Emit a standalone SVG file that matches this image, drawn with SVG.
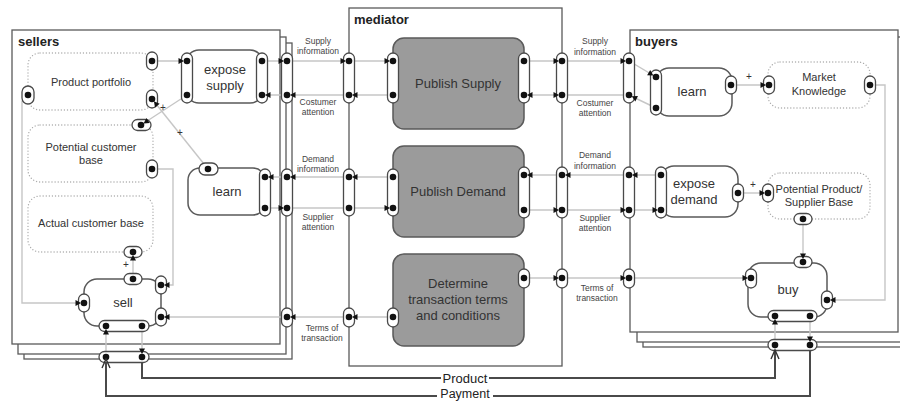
<svg xmlns="http://www.w3.org/2000/svg" width="900" height="401" viewBox="0 0 900 401">
<style>
.page{fill:#fff;stroke:#5a5a5a;stroke-width:1.3}
.proc{fill:#fff;stroke:#5a5a5a;stroke-width:1.5}
.med{fill:#9b9b9b;stroke:#5a5a5a;stroke-width:1.5}
.res{fill:#fff;stroke:#aaa;stroke-width:1.3;stroke-dasharray:0.1 3;stroke-linecap:round}
.port{fill:#fff;stroke:#4a4a4a;stroke-width:1.3}
.dot{fill:#111}
.c{fill:none;stroke:#c6c6c6;stroke-width:1.4}
.flow{fill:none;stroke:#4a4a4a;stroke-width:2}
.chev{fill:none;stroke:#333;stroke-width:1.4}
text{font-family:"Liberation Sans",Arial,sans-serif;fill:#333}
.title{font-size:13px;font-weight:bold;fill:#222}
.nt{font-size:13px;text-anchor:middle}
.rt{font-size:11px;text-anchor:middle}
.lbl{font-size:8.5px;text-anchor:middle;fill:#444}
.plus{font-size:10px;text-anchor:middle;fill:#333}
.ft{font-size:13px;text-anchor:middle;fill:#222}
</style>
<defs>
<path id="mR" d="M0 0 L-5.5 -3 L-5.5 3 Z" fill="#111"/>
<path id="mL" d="M0 0 L5.5 -3 L5.5 3 Z" fill="#111"/>
<path id="mU" d="M0 0 L-3 5.5 L3 5.5 Z" fill="#111"/>
<path id="mD" d="M0 0 L-3 -5.5 L3 -5.5 Z" fill="#111"/>
</defs>

<!-- swimlane pages -->
<g id="sellers-pages">
<rect class="page" x="24" y="43" width="268" height="316"/>
<rect class="page" x="18" y="37" width="268" height="317"/>
<rect class="page" x="12" y="30" width="268" height="314"/>
<text class="title" x="18" y="46">sellers</text>
</g>
<g id="buyers-pages">
<rect class="page" x="643" y="43" width="270" height="304"/>
<rect class="page" x="637" y="37" width="270" height="305"/>
<rect class="page" x="630" y="30" width="268" height="302"/>
<text class="title" x="635" y="46">buyers</text>
</g>
<g id="mediator-frame">
<rect class="page" x="349" y="8" width="213" height="358"/>
<text class="title" x="354" y="24">mediator</text>
</g>

<!-- connectors -->
<g id="connectors">
<path class="c" d="M152 61 H187"/>
<path class="c" d="M262 61 H393"/>
<path class="c" d="M524 61 H629 L656 77"/>
<path class="c" d="M262 95 H393"/>
<path class="c" d="M524 95 H629 L656 108"/>
<path class="c" d="M265 177 H393"/>
<path class="c" d="M524 175 H661"/>
<path class="c" d="M265 208 H393"/>
<path class="c" d="M524 210 H661"/>
<path class="c" d="M161 317 H393"/>
<path class="c" d="M524 278 H751"/>
<path class="c" d="M22 101 V303 H84"/>
<path class="c" d="M152 169 H173 V285 H161"/>
<path class="c" d="M133 252 V279"/>
<path class="c" d="M208 169 L152 99"/>
<path class="c" d="M187 95 L141 125"/>
<path class="c" d="M106 326 V357 M142 326 V357"/>
<path class="c" d="M731 85 H769"/>
<path class="c" d="M870 85 H885 V300 H827"/>
<path class="c" d="M738 193 H768"/>
<path class="c" d="M803 219 V262"/>
<path class="c" d="M775 316 V345 M810 316 V345"/>
<path class="flow" d="M142 357 V378 H775 V346"/>
<path class="flow" d="M810 346 V396 H106 V358"/>
<rect x="441" y="371" width="48" height="14" fill="#fff"/>
<text class="ft" x="465" y="383">Product</text>
<rect x="437" y="389" width="56" height="12" fill="#fff"/>
<text class="ft" x="465" y="398" style="font-size:12.5px">Payment</text>
<text class="plus" x="163" y="111">+</text>
<text class="plus" x="180" y="136">+</text>
<text class="plus" x="126" y="268">+</text>
<text class="plus" x="749" y="80">+</text>
<text class="plus" x="753" y="188">+</text>
<text class="lbl" x="318" y="44">Supply</text><text class="lbl" x="318" y="54">information</text>
<text class="lbl" x="318" y="105">Costumer</text><text class="lbl" x="318" y="115">attention</text>
<text class="lbl" x="318" y="162">Demand</text><text class="lbl" x="318" y="172">information</text>
<text class="lbl" x="318" y="220">Supplier</text><text class="lbl" x="318" y="230">attention</text>
<text class="lbl" x="322" y="331">Terms of</text><text class="lbl" x="322" y="341">transaction</text>
<text class="lbl" x="595" y="44">Supply</text><text class="lbl" x="595" y="55">information</text>
<text class="lbl" x="595" y="106">Costumer</text><text class="lbl" x="595" y="116">attention</text>
<text class="lbl" x="595" y="158">Demand</text><text class="lbl" x="595" y="169">information</text>
<text class="lbl" x="595" y="221">Supplier</text><text class="lbl" x="595" y="231">attention</text>
<text class="lbl" x="597" y="291">Terms of</text><text class="lbl" x="597" y="301">transaction</text>
</g>

<!-- sellers nodes -->
<g id="product-portfolio">
<rect class="res" x="28" y="53" width="125" height="57" rx="12"/>
<text class="rt" x="91" y="86">Product portfolio</text>
<rect class="port" x="22" y="86" width="12" height="18" rx="6"/><circle class="dot" cx="28" cy="95" r="3.3"/>
<rect class="port" x="146.5" y="52" width="11" height="18" rx="5.5"/><circle class="dot" cx="152" cy="61" r="3.3"/>
<rect class="port" x="146.5" y="90" width="11" height="18" rx="5.5"/><circle class="dot" cx="152" cy="99" r="3.3"/>
</g>
<g id="potential-customer-base">
<rect class="res" x="28" y="125" width="125" height="57" rx="12"/>
<text class="rt" x="91" y="151">Potential customer</text>
<text class="rt" x="91" y="164">base</text>
<rect class="port" x="132" y="119.5" width="19" height="11" rx="5.5"/><circle class="dot" cx="141" cy="125" r="3.3"/>
<rect class="port" x="146.5" y="160" width="11" height="18" rx="5.5"/><circle class="dot" cx="152" cy="169" r="3.3"/>
</g>
<g id="actual-customer-base">
<rect class="res" x="28" y="196" width="125" height="56" rx="12"/>
<text class="rt" x="91" y="227">Actual customer base</text>
<rect class="port" x="124" y="246.5" width="18" height="11" rx="5.5"/><circle class="dot" cx="133" cy="252" r="3.3"/>
</g>
<g id="expose-supply">
<rect class="proc" x="186" y="50" width="77" height="53" rx="13"/>
<text class="nt" x="225" y="74">expose</text>
<text class="nt" x="225" y="90">supply</text>
<rect class="port" x="181.5" y="53" width="11" height="50" rx="5.5"/>
<circle class="dot" cx="187" cy="61" r="3.3"/><circle class="dot" cx="187" cy="95" r="3.3"/>
<rect class="port" x="256.5" y="53" width="11" height="50" rx="5.5"/>
<circle class="dot" cx="262" cy="61" r="3.3"/><circle class="dot" cx="262" cy="95" r="3.3"/>
</g>
<g id="sellers-learn">
<rect class="proc" x="188" y="168" width="77" height="47" rx="12"/>
<text class="nt" x="227" y="196">learn</text>
<rect class="port" x="259.5" y="169" width="11" height="47" rx="5.5"/>
<circle class="dot" cx="265" cy="177" r="3.3"/><circle class="dot" cx="265" cy="208" r="3.3"/>
<rect class="port" x="199" y="163" width="19" height="12" rx="6"/><circle class="dot" cx="208" cy="169" r="3.3"/>
</g>
<g id="sell">
<rect class="proc" x="84" y="279" width="77" height="47" rx="13"/>
<text class="nt" x="123" y="307">sell</text>
<rect class="port" x="124" y="273.5" width="18" height="11" rx="5.5"/><circle class="dot" cx="133" cy="279" r="3.3"/>
<rect class="port" x="78.5" y="294" width="11" height="18" rx="5.5"/><circle class="dot" cx="84" cy="303" r="3.3"/>
<rect class="port" x="155.5" y="276" width="11" height="18" rx="5.5"/><circle class="dot" cx="161" cy="285" r="3.3"/>
<rect class="port" x="155.5" y="308" width="11" height="18" rx="5.5"/><circle class="dot" cx="161" cy="317" r="3.3"/>
<rect class="port" x="99" y="320.5" width="50" height="11" rx="5.5"/>
<circle class="dot" cx="106" cy="326" r="3.3"/><circle class="dot" cx="142" cy="326" r="3.3"/>
</g>
<g id="sellers-ports">
<rect class="port" x="281.5" y="53" width="11" height="50" rx="5.5"/>
<circle class="dot" cx="287" cy="61" r="3.3"/><circle class="dot" cx="287" cy="95" r="3.3"/>
<rect class="port" x="281.5" y="169" width="11" height="47" rx="5.5"/>
<circle class="dot" cx="287" cy="177" r="3.3"/><circle class="dot" cx="287" cy="208" r="3.3"/>
<rect class="port" x="281.5" y="308" width="11" height="19" rx="5.5"/><circle class="dot" cx="287" cy="317" r="3.3"/>
<rect class="port" x="99" y="351.5" width="50" height="11" rx="5.5"/>
<circle class="dot" cx="106" cy="357" r="3.3"/><circle class="dot" cx="142" cy="357" r="3.3"/>
</g>

<!-- mediator nodes -->
<g id="publish-supply">
<rect class="med" x="393" y="38" width="131" height="91" rx="11"/>
<text class="nt" x="458" y="88">Publish Supply</text>
<rect class="port" x="387.5" y="53" width="11" height="50" rx="5.5"/>
<circle class="dot" cx="393" cy="61" r="3.3"/><circle class="dot" cx="393" cy="95" r="3.3"/>
<rect class="port" x="518.5" y="53" width="11" height="50" rx="5.5"/>
<circle class="dot" cx="524" cy="61" r="3.3"/><circle class="dot" cx="524" cy="95" r="3.3"/>
</g>
<g id="publish-demand">
<rect class="med" x="393" y="146" width="131" height="91" rx="11"/>
<text class="nt" x="458" y="196">Publish Demand</text>
<rect class="port" x="387.5" y="169" width="11" height="47" rx="5.5"/>
<circle class="dot" cx="393" cy="177" r="3.3"/><circle class="dot" cx="393" cy="208" r="3.3"/>
<rect class="port" x="518.5" y="167" width="11" height="51" rx="5.5"/>
<circle class="dot" cx="524" cy="175" r="3.3"/><circle class="dot" cx="524" cy="210" r="3.3"/>
</g>
<g id="determine-terms">
<rect class="med" x="393" y="254" width="131" height="92" rx="11"/>
<text class="nt" x="458" y="288">Determine</text>
<text class="nt" x="458" y="304">transaction terms</text>
<text class="nt" x="458" y="320">and conditions</text>
<rect class="port" x="387.5" y="308" width="11" height="19" rx="5.5"/><circle class="dot" cx="393" cy="317" r="3.3"/>
<rect class="port" x="518.5" y="269" width="11" height="19" rx="5.5"/><circle class="dot" cx="524" cy="278" r="3.3"/>
</g>
<g id="mediator-ports">
<rect class="port" x="343.5" y="53" width="11" height="50" rx="5.5"/>
<circle class="dot" cx="349" cy="61" r="3.3"/><circle class="dot" cx="349" cy="95" r="3.3"/>
<rect class="port" x="343.5" y="169" width="11" height="47" rx="5.5"/>
<circle class="dot" cx="349" cy="177" r="3.3"/><circle class="dot" cx="349" cy="208" r="3.3"/>
<rect class="port" x="343.5" y="308" width="11" height="19" rx="5.5"/><circle class="dot" cx="349" cy="317" r="3.3"/>
<rect class="port" x="556.5" y="53" width="11" height="50" rx="5.5"/>
<circle class="dot" cx="562" cy="61" r="3.3"/><circle class="dot" cx="562" cy="95" r="3.3"/>
<rect class="port" x="556.5" y="167" width="11" height="51" rx="5.5"/>
<circle class="dot" cx="562" cy="175" r="3.3"/><circle class="dot" cx="562" cy="210" r="3.3"/>
<rect class="port" x="556.5" y="269" width="11" height="19" rx="5.5"/><circle class="dot" cx="562" cy="278" r="3.3"/>
</g>

<!-- buyers nodes -->
<g id="buyers-ports">
<rect class="port" x="623.5" y="53" width="11" height="50" rx="5.5"/>
<circle class="dot" cx="629" cy="61" r="3.3"/><circle class="dot" cx="629" cy="95" r="3.3"/>
<rect class="port" x="623.5" y="167" width="11" height="51" rx="5.5"/>
<circle class="dot" cx="629" cy="175" r="3.3"/><circle class="dot" cx="629" cy="210" r="3.3"/>
<rect class="port" x="623.5" y="269" width="11" height="19" rx="5.5"/><circle class="dot" cx="629" cy="278" r="3.3"/>
<rect class="port" x="768" y="339.5" width="49" height="11" rx="5.5"/>
<circle class="dot" cx="775" cy="345" r="3.3"/><circle class="dot" cx="810" cy="345" r="3.3"/>
</g>
<g id="buyers-learn">
<rect class="proc" x="656" y="68" width="76" height="48" rx="13"/>
<text class="nt" x="692" y="96">learn</text>
<rect class="port" x="650.5" y="70" width="11" height="45" rx="5.5"/>
<circle class="dot" cx="656" cy="77" r="3.3"/><circle class="dot" cx="656" cy="108" r="3.3"/>
<rect class="port" x="725.5" y="76" width="11" height="18" rx="5.5"/><circle class="dot" cx="731" cy="85" r="3.3"/>
</g>
<g id="market-knowledge">
<rect class="res" x="768" y="62" width="102" height="46" rx="12"/>
<text class="rt" x="819" y="81">Market</text>
<text class="rt" x="819" y="95">Knowledge</text>
<rect class="port" x="763.5" y="76" width="11" height="18" rx="5.5"/><circle class="dot" cx="769" cy="85" r="3.3"/>
<rect class="port" x="864.5" y="76" width="11" height="18" rx="5.5"/><circle class="dot" cx="870" cy="85" r="3.3"/>
</g>
<g id="expose-demand">
<rect class="proc" x="661" y="166" width="77" height="51" rx="13"/>
<text class="nt" x="694" y="188">expose</text>
<text class="nt" x="694" y="204">demand</text>
<rect class="port" x="655.5" y="167" width="11" height="51" rx="5.5"/>
<circle class="dot" cx="661" cy="175" r="3.3"/><circle class="dot" cx="661" cy="210" r="3.3"/>
<rect class="port" x="732.5" y="184" width="11" height="18" rx="5.5"/><circle class="dot" cx="738" cy="193" r="3.3"/>
</g>
<g id="potential-product-supplier-base">
<rect class="res" x="768" y="173" width="102" height="46" rx="12"/>
<text class="rt" x="819" y="193">Potential Product/</text>
<text class="rt" x="819" y="206">Supplier Base</text>
<rect class="port" x="762.5" y="184" width="11" height="18" rx="5.5"/><circle class="dot" cx="768" cy="193" r="3.3"/>
<rect class="port" x="794" y="213.5" width="18" height="11" rx="5.5"/><circle class="dot" cx="803" cy="219" r="3.3"/>
</g>
<g id="buy">
<rect class="proc" x="748" y="263" width="79" height="54" rx="13"/>
<text class="nt" x="788" y="294">buy</text>
<rect class="port" x="794" y="256.5" width="18" height="11" rx="5.5"/><circle class="dot" cx="803" cy="262" r="3.3"/>
<rect class="port" x="745.5" y="269" width="11" height="19" rx="5.5"/><circle class="dot" cx="751" cy="278" r="3.3"/>
<rect class="port" x="821.5" y="291" width="11" height="18" rx="5.5"/><circle class="dot" cx="827" cy="300" r="3.3"/>
<rect class="port" x="768" y="310.5" width="49" height="11" rx="5.5"/>
<circle class="dot" cx="775" cy="316" r="3.3"/><circle class="dot" cx="810" cy="316" r="3.3"/>
</g>

<!-- port direction markers -->
<g id="markers">
<use href="#mR" x="184" y="61"/><use href="#mR" x="284" y="61"/><use href="#mR" x="346" y="61"/>
<use href="#mR" x="390" y="61"/><use href="#mR" x="559" y="61"/><use href="#mR" x="626" y="61"/>
<use href="#mR" x="284" y="208"/><use href="#mR" x="390" y="208"/><use href="#mR" x="559" y="210"/>
<use href="#mR" x="626" y="210"/><use href="#mR" x="658" y="210"/><use href="#mR" x="559" y="278"/>
<use href="#mR" x="626" y="278"/><use href="#mR" x="748" y="278"/><use href="#mR" x="766" y="85"/>
<use href="#mR" x="765" y="193"/><use href="#mR" x="81" y="303"/><use href="#mR" x="559" y="95"/>
<use href="#mL" x="265" y="95"/><use href="#mL" x="290" y="95"/><use href="#mL" x="352" y="95"/>
<use href="#mL" x="527" y="95"/><use href="#mL" x="268" y="177"/><use href="#mL" x="290" y="177"/>
<use href="#mL" x="352" y="177"/><use href="#mL" x="527" y="175"/><use href="#mL" x="565" y="175"/>
<use href="#mL" x="632" y="175"/><use href="#mL" x="164" y="285"/><use href="#mL" x="164" y="317"/>
<use href="#mL" x="290" y="317"/><use href="#mL" x="352" y="317"/><use href="#mL" x="830" y="300"/>
<use href="#mU" x="133" y="255"/><use href="#mU" x="106" y="329"/><use href="#mU" x="775" y="319"/>
<use href="#mD" x="142" y="354"/><use href="#mD" x="803" y="259"/><use href="#mD" x="810" y="342"/>
<use href="#mR" transform="translate(653.4 75.5) rotate(30.6)"/>
<use href="#mR" transform="translate(631.7 96.3) rotate(205.7)"/>
<use href="#mR" transform="translate(153.9 101.3) rotate(230.9)"/>
<use href="#mR" transform="translate(143.5 123.4) rotate(146.9)"/>
<path class="chev" d="M771 359 L775 350 L779 359"/>
<path class="chev" d="M102 368 L106 359 L110 368"/>
</g>
</svg>
